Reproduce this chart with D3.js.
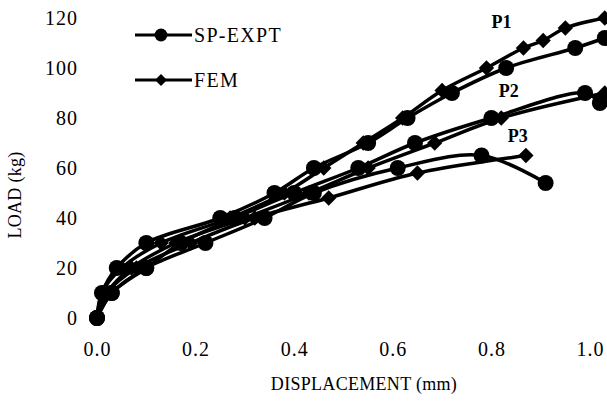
<!doctype html>
<html lang="en">
<head>
    <meta charset="UTF-8">
    <title>load-displacement</title>
    <style>
        body { margin: 0; background: #fff; }
        text { font-family: "Liberation Serif", "Times New Roman", serif; fill: #000; }
        .tick { font-size: 20px; letter-spacing: 1px; }
        .legend { font-size: 20px; letter-spacing: 1.3px; }
        .title { font-size: 18px; letter-spacing: 0.3px; }
        .tag { font-size: 18px; font-weight: bold; }
        .curve { fill: none; stroke: #000; stroke-width: 3.5px; }
    </style>
</head>
<body>

<svg width="607" height="403"></svg>

<script src="https://d3js.org/d3.v7.min.js"></script>
<script>
  // displacement (mm) / load (kg) pairs
  const p1ExptDisp = [0, 0.01, 0.04, 0.10, 0.25, 0.36, 0.44, 0.55, 0.63, 0.72, 0.83, 0.97, 1.03]
  const p1ExptLoad = [0, 10, 20, 30, 40, 50, 60, 70, 80, 90, 100, 108, 112]
  const p2ExptDisp = [0, 0.03, 0.10, 0.17, 0.28, 0.40, 0.53, 0.645, 0.80, 0.99, 1.02]
  const p2ExptLoad = [0, 10, 20, 30, 40, 50, 60, 70, 80, 90, 86]
  const p3ExptDisp = [0, 0.03, 0.10, 0.22, 0.34, 0.44, 0.61, 0.78, 0.91]
  const p3ExptLoad = [0, 10, 20, 30, 40, 50, 60, 65, 54]

  const p1FemDisp = [0, 0.01, 0.05, 0.13, 0.27, 0.38, 0.46, 0.54, 0.62, 0.70, 0.79, 0.865, 0.905, 0.95, 1.03]
  const p1FemLoad = [0, 10, 20, 30, 40, 50, 60, 70, 80, 91, 100, 108, 111, 116, 120]
  const p2FemDisp = [0, 0.02, 0.07, 0.16, 0.30, 0.43, 0.55, 0.685, 0.82, 1.03]
  const p2FemLoad = [0, 10, 20, 30, 40, 50, 60, 70, 80, 90]
  const p3FemDisp = [0, 0.02, 0.08, 0.19, 0.32, 0.47, 0.65, 0.87]
  const p3FemLoad = [0, 10, 20, 30, 40, 48, 58, 65]

  const xTicks = [0, 0.2, 0.4, 0.6, 0.8, 1.0]
  const yTicks = [0, 20, 40, 60, 80, 100, 120]
  const legendNames = ['SP-EXPT', 'FEM']
  const tagNames = ['P1', 'P2', 'P3']
  const tagDisp = [0.80, 0.815, 0.833]
  const tagLoad = [116, 88.5, 70.5]

  const x = d3.scaleLinear().domain([0, 1]).range([97, 590])
  const y = d3.scaleLinear().domain([0, 120]).range([318, 18])

  const svg = d3.select('svg')

  const zip = (a, b) => a.map((v, i) => [v, b[i]])
  const expt = [zip(p1ExptDisp, p1ExptLoad), zip(p2ExptDisp, p2ExptLoad), zip(p3ExptDisp, p3ExptLoad)]
  const fem = [zip(p1FemDisp, p1FemLoad), zip(p2FemDisp, p2FemLoad), zip(p3FemDisp, p3FemLoad)]

  const line = d3.line()
    .x(d => x(d[0]))
    .y(d => y(d[1]))
    .curve(d3.curveCatmullRom.alpha(0.5))

  const circle = d3.symbol().type(d3.symbolCircle).size(200)
  const diamond = d3.symbol().type(d3.symbolDiamond2).size(150)
  const legCircle = d3.symbol().type(d3.symbolCircle).size(130)
  const legDiamond = d3.symbol().type(d3.symbolDiamond2).size(90)

  // axes: labels only, no domain line
  const xAxis = d3.axisBottom(x).tickValues(xTicks).tickFormat(d3.format('.1f')).tickSize(0).tickPadding(0)
  const yAxis = d3.axisLeft(y).tickValues(yTicks).tickSize(0).tickPadding(0)

  svg.append('g')
    .attr('transform', 'translate(0, 342)')
    .call(xAxis)
    .call(g => g.select('.domain').remove())
    .selectAll('text')
    .attr('class', 'tick')
    .attr('font-family', null).attr('font-size', null)

  svg.append('g')
    .attr('transform', 'translate(78, 0)')
    .call(yAxis)
    .call(g => g.select('.domain').remove())
    .selectAll('text')
    .attr('class', 'tick')
    .attr('font-family', null).attr('font-size', null)

  svg.append('text')
    .attr('class', 'title')
    .attr('text-anchor', 'middle')
    .attr('x', 364).attr('y', 390)
    .text('DISPLACEMENT (mm)')

  svg.append('text')
    .attr('class', 'title')
    .attr('text-anchor', 'middle')
    .attr('transform', 'translate(21, 195) rotate(-90)')
    .text('LOAD (kg)')

  // curves
  const marks = svg.append('g')
  expt.concat(fem).forEach(s => {
    marks.append('path').attr('class', 'curve').attr('d', line(s))
  })
  expt.forEach(s => {
    marks.selectAll(null).data(s).enter().append('path')
      .attr('transform', d => `translate(${x(d[0])}, ${y(d[1])})`)
      .attr('d', circle)
  })
  fem.forEach(s => {
    marks.selectAll(null).data(s).enter().append('path')
      .attr('transform', d => `translate(${x(d[0])}, ${y(d[1])})`)
      .attr('d', diamond)
  })

  // series tags
  svg.selectAll('text.tag')
    .data(tagNames)
    .enter()
    .append('text')
    .attr('class', 'tag')
    .attr('x', (d, i) => x(tagDisp[i]))
    .attr('y', (d, i) => y(tagLoad[i]))
    .text(d => d)

  // legend
  const legend = svg.append('g')
  legendNames.forEach((name, i) => {
    const ly = 35 + i * 45
    legend.append('line')
      .attr('x1', 135).attr('x2', 192).attr('y1', ly).attr('y2', ly)
      .attr('stroke', '#000').attr('stroke-width', 3)
    legend.append('path')
      .attr('transform', `translate(161, ${ly})`)
      .attr('d', i === 0 ? legCircle : legDiamond)
    legend.append('text')
      .attr('class', 'legend')
      .attr('x', 194).attr('y', ly + 7)
      .text(name)
  })
</script>
</body>
</html>
